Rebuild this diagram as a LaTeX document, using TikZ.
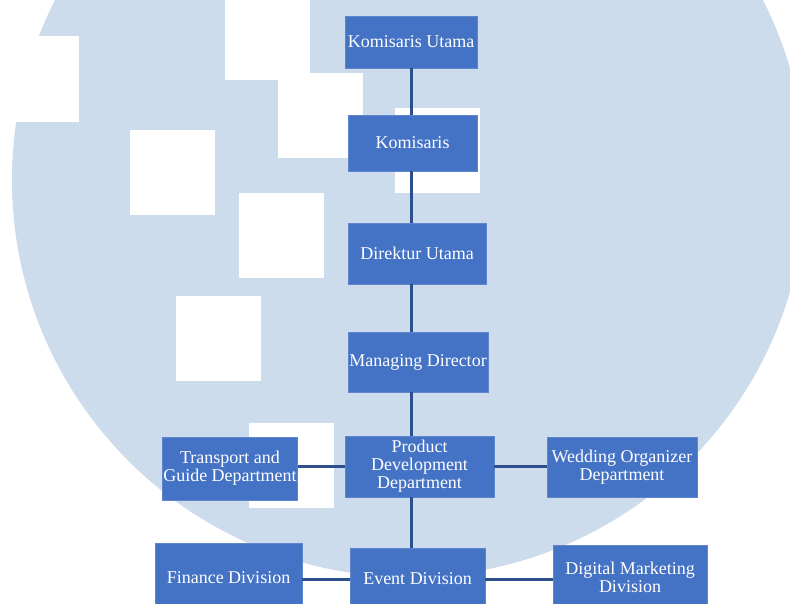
\documentclass[tikz,border=0pt]{standalone}
\usepackage{fontspec}
\setmainfont{Liberation Serif}
\usetikzlibrary{positioning}

\definecolor{boxblue}{HTML}{4472C4}
\definecolor{boxedge}{HTML}{5F86CC}
\definecolor{linkblue}{HTML}{2E4F8E}
\definecolor{bgblue}{HTML}{CDDCEC}

\begin{document}
\begin{tikzpicture}[x=1pt, y=-1pt,
    unit/.style={fill=boxblue, draw=boxedge, line width=0.8pt, text=white,
      align=center, inner sep=1pt, font=\fontsize{18}{18}\selectfont},
    link/.style={draw=linkblue, line width=3pt}]
    \clip (0,0) rectangle (790,603);
    \fill[white] (0,0) rectangle (790,603);
    \fill[bgblue] (409,180) circle (397);
    \foreach \px/\py in {225/-5, 278/73, 130/130, 239/193, 176/296, 395/108, 249/423}
      \fill[white] (\px,\py) rectangle ++(85,85);
    \fill[white] (0,36) rectangle (79,122);

    \node (kutama) at (411,42) [unit, minimum width=132pt, minimum height=52pt] {Komisaris Utama};
    \node (kom) at (412.5,143) [unit, minimum width=129pt, minimum height=56pt] {Komisaris};
    \node (dirut) at (417,253.5) [unit, minimum width=138pt, minimum height=61pt] {Direktur Utama};
    \node (md) at (418,362) [unit, minimum width=140pt, minimum height=60pt] {Managing Director};
    \node (pdd) at (419.5,466.5) [unit, minimum width=149pt, minimum height=61pt] {Product\\Development\\Department};
    \node (tgd) at (230,468.5) [unit, minimum width=134pt, minimum height=63pt] {Transport and\\Guide Department};
    \node (wod) at (622,467) [unit, minimum width=150pt, minimum height=60pt] {Wedding Organizer\\Department};
    \node (fin) at (228.5,578) [unit, minimum width=147pt, minimum height=70pt] {Finance Division};
    \node (ev) at (417.5,579) [unit, minimum width=135pt, minimum height=62pt] {Event Division};
    \node (dm) at (630,577.5) [unit, minimum width=154pt, minimum height=65pt] {Digital Marketing\\Division};

    \draw[link] (kutama.south) -- (kutama.south |- kom.north);
    \draw[link] (kutama.south |- kom.south) -- (kutama.south |- dirut.north);
    \draw[link] (kutama.south |- dirut.south) -- (kutama.south |- md.north);
    \draw[link] (kutama.south |- md.south) -- (kutama.south |- pdd.north);
    \draw[link] (kutama.south |- pdd.south) -- (kutama.south |- ev.north);
    \draw[link] (pdd.west) -- (pdd.west -| tgd.east);
    \draw[link] (pdd.east) -- (pdd.east -| wod.west);
    \draw[link] (ev.west) -- (ev.west -| fin.east);
    \draw[link] (ev.east) -- (ev.east -| dm.west);
\end{tikzpicture}
\end{document}
